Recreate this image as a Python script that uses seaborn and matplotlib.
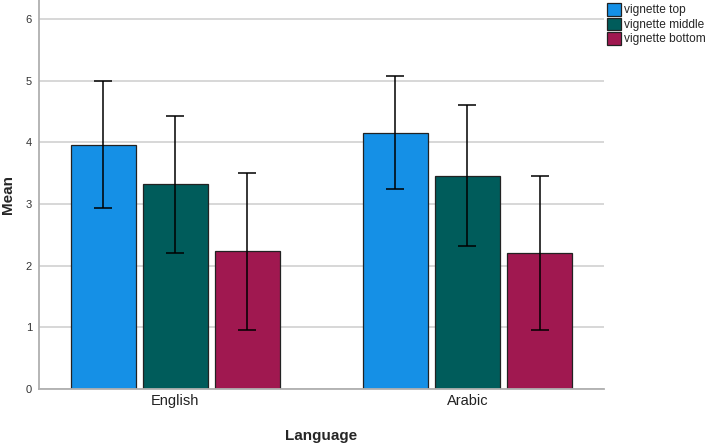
import pandas as pd
import numpy as np
import matplotlib
matplotlib.use("Agg")
import matplotlib.pyplot as plt
import seaborn as sns

# %%
languages = ["English", "Arabic"]
vignettes = ["vignette top", "vignette middle", "vignette bottom"]
colors = ["#1590e6", "#005c5b", "#a01850"]

mean_top = [3.96, 4.15]
mean_middle = [3.33, 3.46]
mean_bottom = [2.24, 2.20]

low_top = [2.93, 3.25]
low_middle = [2.21, 2.32]
low_bottom = [0.96, 0.95]

high_top = [5.00, 5.08]
high_middle = [4.43, 4.61]
high_bottom = [3.51, 3.45]

# %%
df = pd.DataFrame({
    "Language": languages * 3,
    "vignette": [v for v in vignettes for _ in languages],
    "Mean": mean_top + mean_middle + mean_bottom,
    "low": low_top + low_middle + low_bottom,
    "high": high_top + high_middle + high_bottom,
})

sns.set_style("white")
plt.rcParams["font.family"] = ["Liberation Sans", "DejaVu Sans"]

fig = plt.figure(figsize=(7.08, 4.45), dpi=100)
ax = fig.add_axes([0.055, 0.126, 0.798, 0.874])

ax.yaxis.grid(True, color="#d4d4d4", lw=1.3)
ax.set_axisbelow(True)

sns.barplot(data=df, x="Language", y="Mean", hue="vignette", order=languages,
            hue_order=vignettes, palette=colors, saturation=1, width=0.74, gap=0.1,
            edgecolor="#222222", linewidth=0.9, errorbar=None, ax=ax)

# error bars from the bar positions
for patch_group, v in zip(ax.containers, vignettes):
    sub = df[df["vignette"] == v].set_index("Language").loc[languages]
    xs = [p.get_x() + p.get_width() / 2 for p in patch_group]
    ax.errorbar(xs, sub["Mean"], yerr=[sub["Mean"] - sub["low"], sub["high"] - sub["Mean"]],
                fmt="none", ecolor="black", elinewidth=1.1, capsize=6.5, capthick=1.1)

ax.set_ylim(0, 6.31)
ax.set_xlim(-0.467, 1.467)
ax.set_yticks(range(0, 7))
ax.tick_params(axis="y", labelsize=8, labelcolor="#333333", length=0, pad=5)
ax.tick_params(axis="x", labelsize=10.5, labelcolor="#222222", length=0, pad=4)

for s in ["top", "right"]:
    ax.spines[s].set_visible(False)
for s in ["left", "bottom"]:
    ax.spines[s].set_color("#b0b0b0")
    ax.spines[s].set_linewidth(1.3)

ax.set_xlabel("Language", fontsize=11, fontweight="bold", labelpad=15)
ax.set_ylabel("Mean", fontsize=11, fontweight="bold", labelpad=8)

leg = ax.legend(loc="upper left", bbox_to_anchor=(1.0, 1.0), frameon=False,
                fontsize=8.6, handlelength=1.15, handleheight=1.25, handletextpad=0.25,
                labelspacing=0.1, borderaxespad=0.1, borderpad=0.15)

fig.savefig("out.png", dpi=100)
